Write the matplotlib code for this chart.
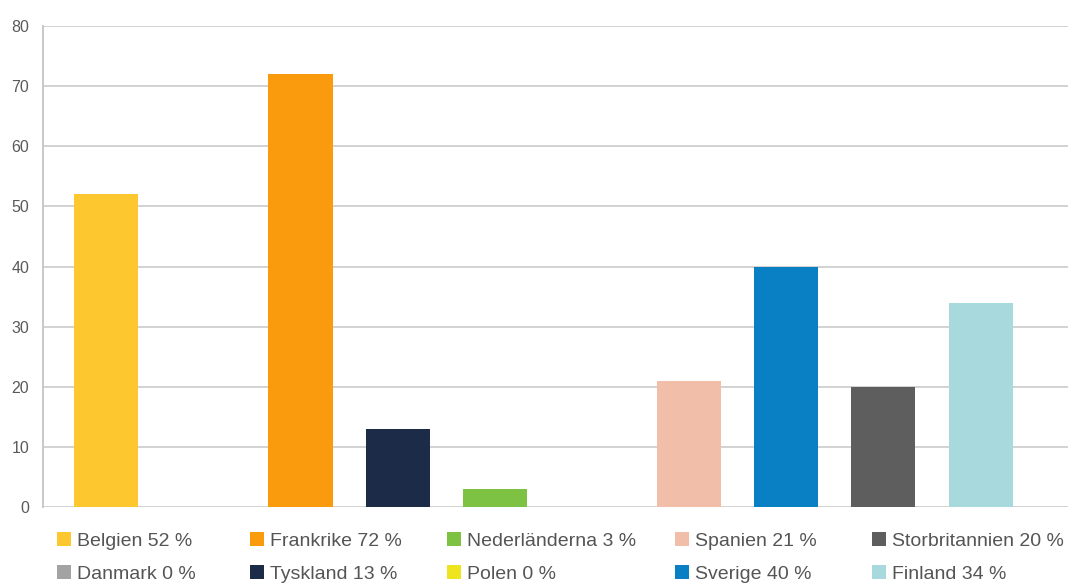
import matplotlib.pyplot as plt
import numpy as np

# shares per country (%)
countries = ['Belgien', 'Danmark', 'Frankrike', 'Tyskland', 'Nederländerna',
             'Polen', 'Spanien', 'Sverige', 'Storbritannien', 'Finland']
values = [52, 0, 72, 13, 3, 0, 21, 40, 20, 34]
colors = ['#FDC82F', '#A3A3A3', '#F99B0C', '#1C2B47', '#7DC243',
          '#EEE51F', '#F1BFA9', '#0A80C4', '#5E5E5E', '#A8D9DC']
yticks = [0, 10, 20, 30, 40, 50, 60, 70, 80]

plt.rcParams['font.family'] = ['Liberation Sans', 'DejaVu Sans']

fig = plt.figure(figsize=(10.68, 5.86), dpi=100)
ax = fig.add_axes([0.0403, 0.1348, 0.9597, 0.8208])

x = np.arange(len(countries))
bars = ax.bar(x, values, width=0.66, color=colors, zorder=3)

ax.set_xlim(-0.65, 9.9)
ax.set_ylim(0, 80)
ax.set_yticks(yticks)
ax.set_xticks([])
ax.yaxis.grid(True, color='#d2d2d2', linewidth=1.4, zorder=0)
for s in ['top', 'right', 'bottom']:
    ax.spines[s].set_visible(False)
ax.spines['left'].set_color('#c8c8c8')
ax.spines['left'].set_linewidth(1.4)
ax.tick_params(axis='y', length=0, pad=10, labelsize=11.5, labelcolor='#5a5a5a')

# legend: 5 columns, 2 rows
labels = [f'{c} {v} %' for c, v in zip(countries, values)]
col_x = [57, 250, 447, 675, 872]
for i, cx in enumerate(col_x):
    h = [bars[2 * i], bars[2 * i + 1]]
    l = [labels[2 * i], labels[2 * i + 1]]
    leg = fig.legend(h, l, loc='upper left', bbox_to_anchor=(cx / 1068, 1 - 532 / 586),
                     frameon=False, fontsize=14, handlelength=0.72, handleheight=0.72,
                     handletextpad=0.3, labelspacing=0.78, borderpad=0, borderaxespad=0)
    for t in leg.get_texts():
        t.set_color('#555555')

fig.savefig('out.png', dpi=100)
